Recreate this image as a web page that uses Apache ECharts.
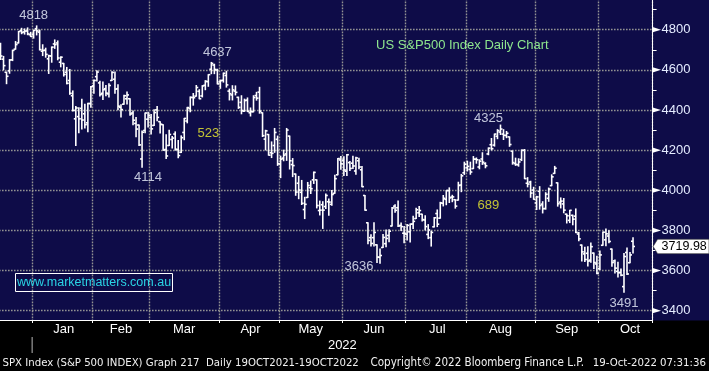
<!DOCTYPE html>
<html>
<head>
<meta charset="utf-8">
<script src="https://cdn.jsdelivr.net/npm/echarts@6/dist/echarts.min.js"></script>
<style>
html,body{margin:0;padding:0;background:#000;overflow:hidden}
#chart{width:709px;height:371px}
</style>
</head>
<body>
<div id="chart"></div>
<script>
// ---------- DATA ----------
const dates = [
'2021-12-16','2021-12-17','2021-12-20','2021-12-21','2021-12-22','2021-12-23','2021-12-27','2021-12-28','2021-12-29','2021-12-30','2021-12-31',
'2022-01-03','2022-01-04','2022-01-05','2022-01-06','2022-01-07','2022-01-10','2022-01-11','2022-01-12','2022-01-13','2022-01-14','2022-01-18','2022-01-19','2022-01-20','2022-01-21','2022-01-24','2022-01-25','2022-01-26','2022-01-27','2022-01-28','2022-01-31',
'2022-02-01','2022-02-02','2022-02-03','2022-02-04','2022-02-07','2022-02-08','2022-02-09','2022-02-10','2022-02-11','2022-02-14','2022-02-15','2022-02-16','2022-02-17','2022-02-18','2022-02-22','2022-02-23','2022-02-24','2022-02-25','2022-02-28',
'2022-03-01','2022-03-02','2022-03-03','2022-03-04','2022-03-07','2022-03-08','2022-03-09','2022-03-10','2022-03-11','2022-03-14','2022-03-15','2022-03-16','2022-03-17','2022-03-18','2022-03-21','2022-03-22','2022-03-23','2022-03-24','2022-03-25','2022-03-28','2022-03-29','2022-03-30','2022-03-31',
'2022-04-01','2022-04-04','2022-04-05','2022-04-06','2022-04-07','2022-04-08','2022-04-11','2022-04-12','2022-04-13','2022-04-14','2022-04-18','2022-04-19','2022-04-20','2022-04-21','2022-04-22','2022-04-25','2022-04-26','2022-04-27','2022-04-28','2022-04-29',
'2022-05-02','2022-05-03','2022-05-04','2022-05-05','2022-05-06','2022-05-09','2022-05-10','2022-05-11','2022-05-12','2022-05-13','2022-05-16','2022-05-17','2022-05-18','2022-05-19','2022-05-20','2022-05-23','2022-05-24','2022-05-25','2022-05-26','2022-05-27','2022-05-31',
'2022-06-01','2022-06-02','2022-06-03','2022-06-06','2022-06-07','2022-06-08','2022-06-09','2022-06-10','2022-06-13','2022-06-14','2022-06-15','2022-06-16','2022-06-17','2022-06-21','2022-06-22','2022-06-23','2022-06-24','2022-06-27','2022-06-28','2022-06-29','2022-06-30',
'2022-07-01','2022-07-05','2022-07-06','2022-07-07','2022-07-08','2022-07-11','2022-07-12','2022-07-13','2022-07-14','2022-07-15','2022-07-18','2022-07-19','2022-07-20','2022-07-21','2022-07-22','2022-07-25','2022-07-26','2022-07-27','2022-07-28','2022-07-29',
'2022-08-01','2022-08-02','2022-08-03','2022-08-04','2022-08-05','2022-08-08','2022-08-09','2022-08-10','2022-08-11','2022-08-12','2022-08-15','2022-08-16','2022-08-17','2022-08-18','2022-08-19','2022-08-22','2022-08-23','2022-08-24','2022-08-25','2022-08-26','2022-08-29','2022-08-30','2022-08-31',
'2022-09-01','2022-09-02','2022-09-06','2022-09-07','2022-09-08','2022-09-09','2022-09-12','2022-09-13','2022-09-14','2022-09-15','2022-09-16','2022-09-19','2022-09-20','2022-09-21','2022-09-22','2022-09-23','2022-09-26','2022-09-27','2022-09-28','2022-09-29','2022-09-30',
'2022-10-03','2022-10-04','2022-10-05','2022-10-06','2022-10-07','2022-10-10','2022-10-11','2022-10-12','2022-10-13','2022-10-14','2022-10-17','2022-10-18'
];
const opens = [
4719,4653,4588,4595,4650,4703,4734,4795,4789,4794,4775,
4778,4805,4788,4693,4698,4655,4669,4729,4734,4638,4632,4588,4547,4471,4356,4367,4408,4381,4336,4432,
4520,4566,4535,4483,4506,4480,4547,4553,4506,4413,4429,4456,4456,4385,4333,4325,4156,4298,4354,
4363,4323,4401,4342,4327,4203,4223,4253,4280,4203,4189,4288,4345,4407,4462,4469,4493,4470,4523,4541,4603,4624,4599,
4540,4548,4572,4494,4475,4494,4463,4438,4394,4449,4386,4391,4472,4489,4386,4255,4278,4187,4223,4254,
4131,4160,4181,4270,4128,4081,4035,3990,3904,3964,4013,4052,4052,3899,3928,3919,3943,3930,3985,4077,4151,
4150,4095,4138,4135,4096,4147,4102,3974,3838,3764,3764,3728,3666,3715,3734,3775,3822,3921,3913,3825,3786,
3781,3793,3832,3859,3888,3881,3852,3780,3764,3818,3884,3861,3935,3955,3998,3966,3953,3951,4026,4087,
4112,4104,4108,4155,4116,4156,4133,4181,4227,4225,4269,4290,4280,4273,4266,4195,4133,4127,4153,4199,4035,4041,4001,
3937,3995,3931,3909,3960,4023,4084,4037,3941,3932,3881,3850,3875,3871,3782,3727,3683,3686,3652,3687,3633,
3610,3726,3753,3772,3707,3648,3596,3591,3520,3690,3639,3746
];
const highs = [
4732,4667,4588,4651,4698,4741,4791,4807,4804,4809,4787,
4797,4819,4798,4725,4708,4673,4714,4749,4744,4665,4632,4612,4602,4495,4417,4411,4453,4429,4433,4517,
4550,4595,4543,4540,4522,4531,4590,4589,4526,4426,4473,4490,4456,4395,4362,4325,4295,4385,4389,
4378,4401,4417,4342,4327,4277,4299,4268,4291,4248,4271,4358,4413,4465,4482,4522,4501,4521,4546,4576,4637,4628,4603,
4549,4584,4593,4504,4521,4520,4464,4471,4454,4460,4410,4471,4488,4513,4386,4299,4278,4241,4308,4270,
4170,4200,4308,4270,4158,4081,4069,4049,3965,4039,4046,4091,4052,3946,3943,3982,3956,3999,4075,4158,4168,
4167,4178,4143,4169,4165,4160,4119,3974,3838,3778,3838,3728,3708,3780,3802,3803,3914,3928,3946,3837,3819,
3830,3832,3871,3911,3919,3881,3873,3829,3796,3864,3902,3940,3974,3999,4012,3975,3953,4040,4079,4140,
4145,4140,4168,4161,4152,4187,4137,4211,4258,4280,4302,4325,4302,4293,4266,4195,4160,4157,4201,4203,4063,4045,4015,
3970,4018,3943,3988,4011,4077,4119,4037,3962,3959,3881,3900,3876,3907,3790,3727,3716,3718,3737,3687,3671,
3698,3792,3807,3798,3707,3652,3641,3608,3685,3712,3690,3763
];
const lows = [
4652,4600,4531,4583,4646,4703,4734,4780,4778,4775,4766,
4758,4774,4699,4671,4663,4582,4638,4707,4650,4615,4569,4530,4478,4395,4223,4287,4305,4310,4292,4414,
4484,4544,4470,4452,4471,4465,4547,4484,4401,4365,4429,4430,4374,4327,4267,4223,4115,4287,4315,
4280,4323,4346,4285,4200,4158,4223,4210,4200,4162,4188,4252,4336,4391,4424,4469,4456,4465,4501,4518,4581,4581,4530,
4508,4539,4514,4450,4450,4475,4408,4381,4393,4392,4370,4391,4449,4384,4268,4201,4175,4163,4189,4124,
4063,4147,4149,4106,4068,3975,3958,3929,3859,3964,3984,4034,3912,3877,3810,3909,3875,3925,3985,4077,4105,
4074,4074,4099,4109,4080,4107,4017,3900,3734,3722,3722,3640,3637,3715,3718,3744,3822,3890,3820,3799,3739,
3752,3742,3809,3859,3869,3847,3802,3759,3722,3817,3819,3861,3922,3928,3939,3943,3911,3951,3993,4079,
4096,4080,4108,4135,4107,4129,4112,4177,4201,4220,4257,4278,4253,4262,4219,4130,4124,4120,4148,4058,4017,3965,3955,
3904,3906,3887,3906,3945,4023,4084,3921,3912,3888,3837,3839,3828,3789,3749,3647,3645,3623,3641,3610,3584,
3605,3726,3723,3739,3621,3588,3568,3574,3492,3580,3639,3687
];
const closes = [
4669,4621,4568,4649,4697,4726,4791,4786,4793,4779,4766,
4797,4794,4701,4696,4677,4670,4713,4726,4659,4663,4577,4533,4483,4398,4410,4356,4350,4327,4432,4516,
4547,4589,4477,4501,4484,4522,4587,4504,4419,4402,4471,4475,4380,4349,4305,4226,4289,4385,4374,
4306,4387,4363,4329,4201,4171,4278,4260,4204,4173,4262,4358,4412,4463,4461,4512,4456,4520,4543,4576,4632,4602,4530,
4546,4583,4525,4481,4500,4488,4413,4397,4447,4393,4392,4462,4459,4394,4272,4296,4175,4184,4288,4132,
4155,4175,4300,4147,4123,3991,4001,3935,3930,4024,4008,4089,3924,3901,3901,3974,3941,3979,4058,4158,4132,
4101,4177,4109,4121,4161,4116,4018,3901,3750,3735,3790,3667,3675,3765,3760,3796,3912,3900,3822,3819,3785,
3825,3831,3845,3903,3899,3854,3819,3802,3790,3863,3831,3937,3960,3999,3962,3967,3921,4024,4072,4130,
4119,4091,4155,4152,4145,4140,4122,4210,4207,4280,4297,4305,4274,4284,4228,4138,4129,4141,4199,4058,4031,3986,3955,
3967,3924,3908,3980,4006,4067,4110,3933,3946,3901,3873,3900,3856,3790,3758,3693,3655,3647,3719,3640,3586,
3678,3791,3783,3745,3640,3612,3589,3577,3670,3583,3678,3720
];
const lastPrice = 3719.98;
// empty trading days kept at the right edge of the chart
const futureDates = ['2022-10-19','2022-10-20','2022-10-21','2022-10-24','2022-10-25','2022-10-26'];
const monthNames = ['Jan','Feb','Mar','Apr','May','Jun','Jul','Aug','Sep','Oct','Nov','Dec'];
const yMajorTicks = [3400,3600,3800,4000,4200,4400,4600,4800];
const annotationTexts = ['4818','4637','4114','523','4325','689','3636','3491'];
const annotationDates = ['2022-01-03','2022-03-31','2022-02-28','2022-03-28','2022-08-10','2022-08-10','2022-06-08','2022-10-13'];
const annotationValues = [4873,4686,4063,4282,4357,3924,3620,3435];
const annotationYellow = [false,false,false,true,false,true,false,false];
const titleText = 'US S&P500 Index Daily Chart';
const websiteText = 'www.marketmatters.com.au';
const yearLabel = '2022';
const footerTexts = ['SPX Index (S&P 500 INDEX) Graph 217  Daily 19OCT2021-19OCT2022','Copyright\u00A9 2022 Bloomberg Finance L.P.','19-Oct-2022 07:31:36'];

// ---------- BUILD ----------
const NAVY = '#0e0c48';
const FONT = '"Liberation Sans", Arial, sans-serif';
const FOOT_FONT = '"DejaVu Sans Condensed", "DejaVu Sans", sans-serif';
const GRIDLINE = {color:'#929292', width:1.4, type:[1.6,1.4]};

const categories = dates.concat(futureDates);
const monthOf = d => d.slice(0,7);
const boundaries = [];
for (let i = 1; i < categories.length; i++) {
  if (monthOf(categories[i]) !== monthOf(categories[i-1])) boundaries.push(i);
}
const boundarySet = new Set(boundaries);
const labelAt = new Map();
boundaries.forEach((b, k) => {
  const next = k + 1 < boundaries.length ? boundaries[k+1] : b + 21;
  labelAt.set(Math.floor((b + next) / 2), monthNames[parseInt(categories[b].slice(5,7),10) - 1]);
});
const ohlc = dates.map((d, i) => [i, opens[i], highs[i], lows[i], closes[i]]);

const chart = echarts.init(document.getElementById('chart'), null, {renderer:'canvas'});

const option = {
  animation: false,
  backgroundColor: NAVY,
  title: {
    text: titleText, left: 376, top: 39, padding: 0,
    textStyle: {color:'#8ee68e', fontSize:13, fontWeight:'normal', fontFamily:FONT}
  },
  grid: {left: -1, top: -10.44, width: 653.6, height: 361.28, containLabel: false, outerBoundsMode: 'none'},
  xAxis: [
    {
      type:'category', data: categories, position:'bottom', boundaryGap:true, z:0,
      axisLine:{show:false, onZero:false}, axisTick:{show:false}, axisLabel:{show:false},
      splitLine:{show:true, interval:(i) => boundarySet.has(i), lineStyle:GRIDLINE}
    },
    {
      type:'category', data: categories, position:'bottom', offset:-30.84, boundaryGap:true, z:3,
      axisLine:{show:true, onZero:false, lineStyle:{color:'#ffffff', width:1}},
      axisTick:{show:true, interval:(i) => boundarySet.has(i), length:3, lineStyle:{color:'#ffffff', width:1}},
      axisLabel:{show:true, interval:(i) => labelAt.has(i), formatter:(v, i) => labelAt.get(i) || '',
        color:'#ffffff', fontSize:13, fontFamily:FONT, margin:3},
      splitLine:{show:false}
    }
  ],
  yAxis: {
    type:'value', position:'right', min:3200, max:5000, interval:200, z:0,
    axisLine:{show:true, lineStyle:{color:'#ffffff', width:1}},
    axisTick:{show:true, length:4, lineStyle:{color:'#ffffff'}},
    minorTick:{show:true, splitNumber:2, length:4, lineStyle:{color:'#ffffff'}},
    axisLabel:{color:'#e4ecff', fontSize:13, fontFamily:FONT, margin:9,
      formatter:(v) => (v >= 3400 && v <= 4800) ? String(v) : ''},
    splitLine:{show:true, lineStyle:GRIDLINE},
    minorSplitLine:{show:false}
  },
  series: [
    {
      type:'custom', xAxisIndex:0, yAxisIndex:0, silent:true, z:2,
      data: ohlc, encode:{x:0, y:[1,2,3,4]},
      renderItem: function (params, api) {
        const i = api.value(0);
        const o = api.coord([i, api.value(1)]);
        const h = api.coord([i, api.value(2)]);
        const l = api.coord([i, api.value(3)]);
        const c = api.coord([i, api.value(4)]);
        const st = {stroke:'#ffffff', lineWidth:1.6};
        const t = 2;
        return {type:'group', children:[
          {type:'line', shape:{x1:h[0], y1:h[1]-0.5, x2:l[0], y2:l[1]+0.5}, style:st},
          {type:'line', shape:{x1:o[0]-t, y1:o[1], x2:o[0], y2:o[1]}, style:st},
          {type:'line', shape:{x1:c[0], y1:c[1], x2:c[0]+t, y2:c[1]}, style:st}
        ]};
      }
    },
    {
      type:'scatter', xAxisIndex:0, yAxisIndex:0, silent:true, z:4,
      symbolSize:1, itemStyle:{color:'rgba(0,0,0,0)'},
      data: annotationTexts.map((t, k) => ({
        name: t, value: [annotationDates[k], annotationValues[k]],
        label: {color: annotationYellow[k] ? '#f0f030' : '#eef4ff'}
      })),
      label: {show:true, position:'inside', formatter:'{b}', fontSize:13, fontFamily:FONT}
    }
  ]
};
chart.setOption(option);

// ---------- overlay graphics positioned through the axes ----------
const yPx = v => chart.convertToPixel({yAxisIndex:0}, v);
const xPx = c => chart.convertToPixel({xAxisIndex:0}, c);
const band = xPx(categories[1]) - xPx(categories[0]);
const axisX = xPx(categories[categories.length-1]) + band / 2;
const xAxisY = 320;
const sepX = xPx(categories[boundaries[0]]) - band / 2;

const ctx = document.createElement('canvas').getContext('2d');
function fitSize(text, width, family) { ctx.font = '20px ' + family; return 20 * width / ctx.measureText(text).width; }

const g = [];
g.push({type:'rect', z:1, silent:true, shape:{x:0, y:xAxisY+0.5, width:709, height:60}, style:{fill:'#000000'}});
yMajorTicks.forEach(v => {
  const y = yPx(v);
  g.push({type:'polygon', z:5, silent:true, shape:{points:[[axisX, y-2.6],[axisX+8.5, y],[axisX, y+2.6]]}, style:{fill:'#ffffff'}});
});
const py = yPx(lastPrice);
g.push({type:'polygon', z:5, silent:true, shape:{points:[[axisX+0.5, py],[axisX+5, py-7.2],[709, py-7.2],[709, py+7.2],[axisX+5, py+7.2]]},
  style:{fill:'#ffffff', stroke:'#333333', lineWidth:0.6}});
g.push({type:'text', z:6, silent:true, style:{text:lastPrice.toFixed(2), x:axisX+9, y:py+0.5, fill:'#000000',
  font:'12.5px ' + FONT, align:'left', textAlign:'left', verticalAlign:'middle', textVerticalAlign:'middle'}});
// website box
g.push({type:'rect', z:5, silent:true, shape:{x:15.5, y:273.5, width:157, height:18}, style:{fill:'none', stroke:'#ffffff', lineWidth:1}});
g.push({type:'text', z:6, silent:true, style:{text:websiteText, x:94, y:283, fill:'#2ad4e4',
  font:'12.5px ' + FONT, align:'center', textAlign:'center', verticalAlign:'middle', textVerticalAlign:'middle'}});
// year separator + label
g.push({type:'line', z:5, silent:true, shape:{x1:sepX, y1:337, x2:sepX, y2:353}, style:{stroke:'#b8b8b8', lineWidth:1}});
g.push({type:'text', z:5, silent:true, style:{text:yearLabel, x:(sepX + axisX) / 2, y:345, fill:'#ffffff',
  font:'13px ' + FONT, align:'center', textAlign:'center', verticalAlign:'middle', textVerticalAlign:'middle'}});
// footer
const footX = [2.5, 370.5, 592.7];
const footW = [356.6, 213.6, 113.3];
footerTexts.forEach((t, k) => {
  const s = fitSize(t, footW[k], FOOT_FONT);
  g.push({type:'text', z:5, silent:true, style:{text:t, x:footX[k], y:363, fill:'#f2f2f2',
    font: s.toFixed(2) + 'px ' + FOOT_FONT, align:'left', textAlign:'left', verticalAlign:'middle', textVerticalAlign:'middle'}});
});
chart.setOption({graphic: g});
</script>
</body>
</html>
